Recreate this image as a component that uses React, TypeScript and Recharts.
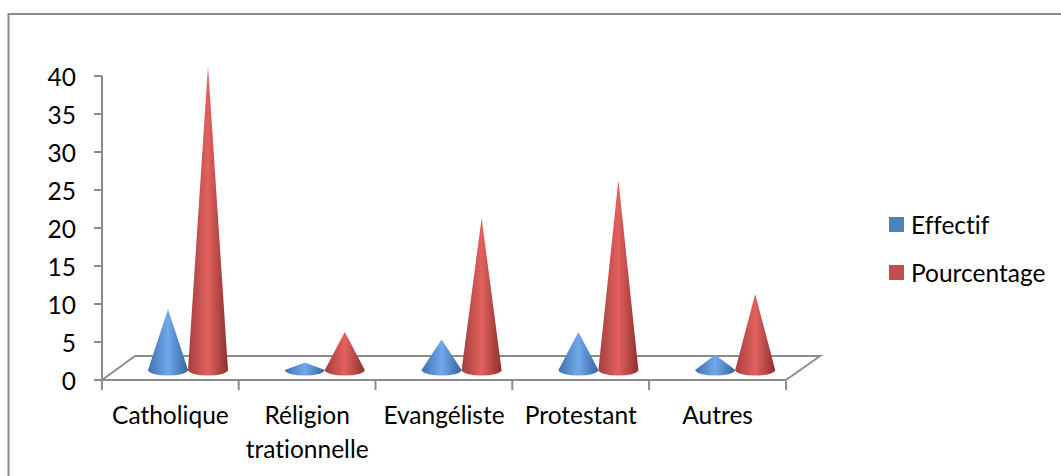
import React from 'react';
import { BarChart, Bar, XAxis, YAxis, Legend } from 'recharts';

const categories = ['Catholique', 'Réligion trationnelle', 'Evangéliste', 'Protestant', 'Autres'];
const effectif = [8, 1, 4, 5, 2];
const pourcentage = [40, 5, 20, 25, 10];
const yTicks = [0, 5, 10, 15, 20, 25, 30, 35, 40];

const data = categories.map((name, i) => ({ name, effectif: effectif[i], pourcentage: pourcentage[i] }));

const FONT = 'Lato, "Open Sans", sans-serif';
const GREY = '#8c8c8c';
const NO_LIGATURES = { fontVariantLigatures: 'none' } as const;
// the original is a 3D chart: cones sit on a floor behind the axis
const DEPTH_X = 18;
const DEPTH_Y = 10;

const Cone = (props: any) => {
    const { x, y, width, height, gradient } = props;
    const left = x + DEPTH_X;
    const right = left + width;
    const mid = left + width / 2;
    const baseY = y + height - DEPTH_Y;
    const d = `M${mid},${y - DEPTH_Y} L${left},${baseY} A${width / 2},5.5 0 0 0 ${right},${baseY} Z`;
    return <path d={d} fill={`url(#${gradient})`} />;
};

const CategoryTick = (props: any) => {
    const { x, payload, index } = props;
    const step = 137;
    const lines = payload.value === 'Réligion trationnelle' ? ['Réligion', 'trationnelle'] : [payload.value];
    return (
        <g>
            <line x1={x - step / 2} x2={x - step / 2} y1={381} y2={390} stroke={GREY} strokeWidth={2} />
            {index === categories.length - 1 && (
                <line x1={x + step / 2} x2={x + step / 2} y1={381} y2={390} stroke={GREY} strokeWidth={2} />
            )}
            {lines.map((line: string, i: number) => (
                <text key={line} x={x} y={424 + i * 34} textAnchor="middle" fontSize={24.5} fontFamily={FONT} fill="#000" style={NO_LIGATURES}>
                    {line}
                </text>
            ))}
        </g>
    );
};

const ValueTick = (props: any) => {
    const { x, y, payload } = props;
    return (
        <text x={x} y={y + 10} textAnchor="end" fontSize={24.5} fontFamily={FONT} fill="#000">
            {payload.value}
        </text>
    );
};

const LegendBox = (props: any) => (
    <div style={{ fontFamily: FONT, fontSize: 24.5, color: '#000', ...NO_LIGATURES }}>
        {props.payload.map((item: any) => (
            <div key={item.value} style={{ display: 'flex', alignItems: 'center', height: 48 }}>
                <span style={{ width: 15, height: 15, background: item.color, marginRight: 7 }} />
                {item.value}
            </div>
        ))}
    </div>
);

export default function App() {
    return (
        <div style={{ position: 'absolute', left: 0, top: 0, width: 1061, height: 476, background: '#fff' }}>
            <BarChart
                width={1061}
                height={476}
                data={data}
                margin={{ top: 76, right: 275, bottom: 66, left: 0 }}
                barSize={40}
                barGap={0}
            >
                <defs>
                    <linearGradient id="coneBlue" x1="0" y1="0" x2="1" y2="0">
                        <stop offset="0" stopColor="#3f70ad" />
                        <stop offset="0.5" stopColor="#72a9ec" />
                        <stop offset="1" stopColor="#33649f" />
                    </linearGradient>
                    <linearGradient id="coneRed" x1="0" y1="0" x2="1" y2="0">
                        <stop offset="0" stopColor="#a33f3d" />
                        <stop offset="0.5" stopColor="#e2615e" />
                        <stop offset="1" stopColor="#8e302e" />
                    </linearGradient>
                </defs>
                {/* chart frame, only top and left are visible in the crop */}
                <path d="M8.5,476 V14 H1061" fill="none" stroke={GREY} strokeWidth={2} />
                {/* floor of the 3D plot */}
                <path d="M102,380 L135,356 H820 L786,380" fill="none" stroke={GREY} strokeWidth={2} />
                <XAxis
                    dataKey="name"
                    axisLine={{ stroke: GREY, strokeWidth: 2 }}
                    tickLine={false}
                    tick={<CategoryTick />}
                    interval={0}
                />
                <YAxis
                    domain={[0, 40]}
                    ticks={yTicks}
                    width={102}
                    tickSize={8}
                    tickMargin={18}
                    axisLine={{ stroke: GREY, strokeWidth: 2 }}
                    tickLine={{ stroke: GREY, strokeWidth: 2 }}
                    tick={<ValueTick />}
                />
                <Legend
                    layout="vertical"
                    align="center"
                    verticalAlign="middle"
                    content={<LegendBox />}
                    wrapperStyle={{ left: 889, top: 200, width: 170 }}
                />
                <Bar
                    dataKey="effectif"
                    name="Effectif"
                    fill="#4F81BD"
                    isAnimationActive={false}
                    shape={<Cone gradient="coneBlue" />}
                />
                <Bar
                    dataKey="pourcentage"
                    name="Pourcentage"
                    fill="#C0504D"
                    isAnimationActive={false}
                    shape={<Cone gradient="coneRed" />}
                />
            </BarChart>
        </div>
    );
}
